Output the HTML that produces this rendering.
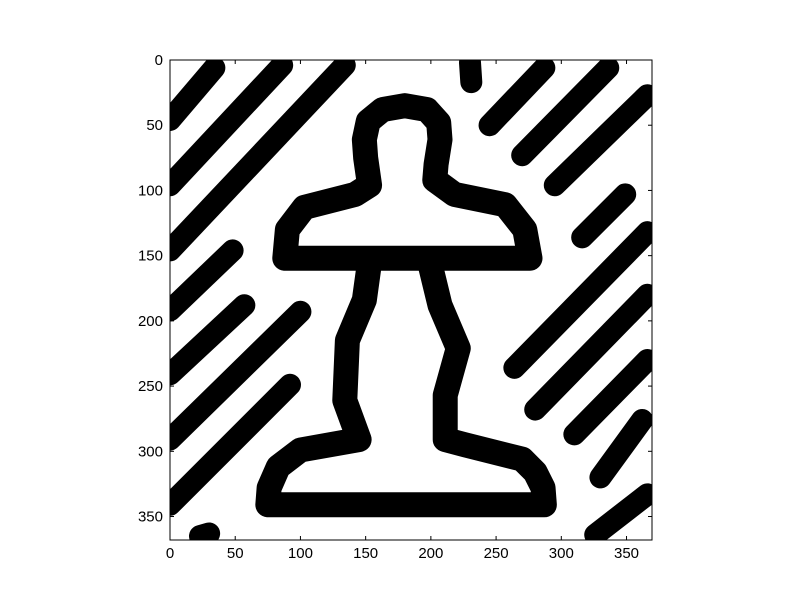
<!DOCTYPE html>
<html><head><meta charset="utf-8"><style>
body{margin:0;background:#fff;font-family:"Liberation Sans",sans-serif}
</style></head><body>
<svg id="chart" width="800" height="600" xmlns="http://www.w3.org/2000/svg">
<rect width="800" height="600" fill="#fff"/>
<defs><clipPath id="clip"><rect x="170" y="60" width="482" height="480"/></clipPath></defs>
<g id="img" clip-path="url(#clip)"></g>
<rect x="170" y="60" width="482" height="480" fill="none" stroke="#000" stroke-width="1"/>
<g id="ticks"></g>
</svg>
<script>
const xTicks=[0,50,100,150,200,250,300,350];
const yTicks=[0,50,100,150,200,250,300,350];
const stripes=[[0,46,34,6],[0,96,86,4],[0,146,134,4],[0,192,48,146],[0,241,57,188],[0,291,100,193],[0,341,92,249],[23,365,30,363],
[230,2,231,17],[245,50,287,6],[270,73,336,6],[295,96,366,27],[316,136,349,103],[264,236,366,132],[280,268,366,180],[310,287,366,230],[330,320,362,276],[326,364,366,333]];
const capOutline=[[88,152],[90,130],[103,113],[142,103],[153,96],[150,75],[149,61],[152,47],[163,38],[180,35],[197,38],[206,48],[207,61],[204,80],[203,92],[218,103],[257,111],[272,130],[276,152],[88,152]];
const stemOutline=[[153,155],[149,184],[136,215],[134,261],[145,291],[100,299],[83,312],[76,328],[75,341],[287,341],[286,328],[280,316],[270,306],[226,295],[211,291],[211,257],[221,221],[207,188],[199,155]];
const S=480/368;
const xs=v=>170+v*S, ys=v=>60+v*S;
const NS="http://www.w3.org/2000/svg";
const img=document.getElementById('img');
stripes.forEach(s=>{
 const l=document.createElementNS(NS,'line');
 l.setAttribute('x1',xs(s[0]));l.setAttribute('y1',ys(s[1]));l.setAttribute('x2',xs(s[2]));l.setAttribute('y2',ys(s[3]));
 l.setAttribute('stroke','#000');l.setAttribute('stroke-width',22);l.setAttribute('stroke-linecap','round');
 
 
 img.appendChild(l);
});
[capOutline,stemOutline].forEach((pts,i)=>{
 const p=document.createElementNS(NS,'polyline');
 p.setAttribute('points',pts.map(q=>xs(q[0])+','+ys(q[1])).join(' '));
 p.setAttribute('fill','none');p.setAttribute('stroke','#000');p.setAttribute('stroke-width',25);
 p.setAttribute('stroke-linejoin','round');p.setAttribute('stroke-linecap','round');
 
 
 img.appendChild(p);
});
const tg=document.getElementById('ticks');
function mk(tag,attrs,text){const e=document.createElementNS(NS,tag);for(const k in attrs)e.setAttribute(k,attrs[k]);if(text!==undefined)e.textContent=text;tg.appendChild(e);return e;}
xTicks.forEach(t=>{const x=xs(t);
 mk('line',{x1:x,y1:540,x2:x,y2:536,stroke:'#000'});
 mk('line',{x1:x,y1:60,x2:x,y2:64,stroke:'#000'});
 const e=mk('text',{x:x,y:558,'font-size':15,'text-anchor':'middle'},t);
 
 
});
yTicks.forEach(t=>{const y=ys(t);
 mk('line',{x1:170,y1:y,x2:174,y2:y,stroke:'#000'});
 mk('line',{x1:652,y1:y,x2:648,y2:y,stroke:'#000'});
 const e=mk('text',{x:163,y:y+5,'font-size':15,'text-anchor':'end'},t);
 
 
});
</script>
</body></html>
